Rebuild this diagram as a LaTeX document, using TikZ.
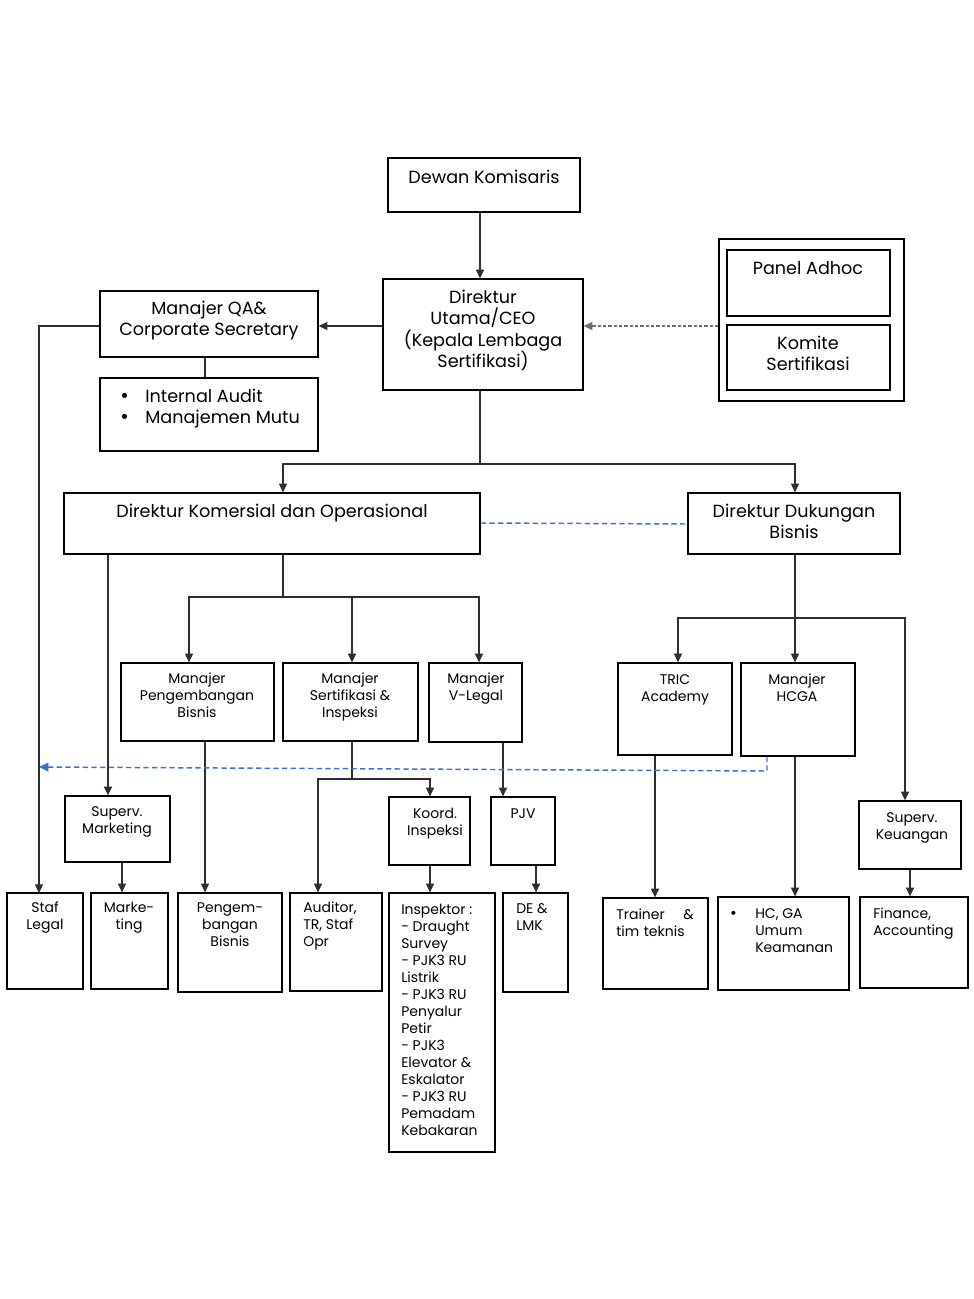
\documentclass[tikz,border=0pt]{standalone}
\usepackage{fontspec}
\setmainfont{Poppins}
\newfontfamily\bulletfont{DejaVu Sans}
\usetikzlibrary{fit,arrows.meta}
\definecolor{lin}{HTML}{2E2E2E}
\definecolor{blu}{HTML}{3F6FD0}
\definecolor{gry}{HTML}{6E6E6E}
\newcommand{\blt}{{\bulletfont •}}
\begin{document}
\begin{tikzpicture}[x=0.75pt,y=-0.75pt,
  box/.style={draw=black,line width=1pt,inner sep=0pt},
  lt/.style={font=\fontsize{13.2}{15.9}\selectfont,align=center,inner sep=0pt,anchor=north},
  st/.style={font=\fontsize{10.5}{12.75}\selectfont,align=center,inner sep=0pt,anchor=north},
  stl/.style={st,align=left,anchor=north west},
  conn/.style={draw=lin,line width=0.8pt},
  arr/.style={conn,-{Triangle[length=6.5pt,width=6pt]}},
  graydash/.style={draw=gry,line width=0.8pt,dash pattern=on 2.5pt off 1.5pt,-{Triangle[length=6.5pt,width=6pt]}},
  bluedash/.style={draw=blu,line width=1.1pt,dash pattern=on 4pt off 2.5pt},
  bluearr/.style={bluedash,-{Triangle[length=7pt,width=6.5pt,fill=blu]}}
]
\fill[white] (0,0) rectangle (974,1299);
\useasboundingbox (0,0) rectangle (974,1299);

% ---------- boxes ----------
\node[box,fit={(388,158)(580,212)}] (dk) {};
\node[box,fit={(383,279)(583,390)}] (ceo) {};
\node[box,fit={(100,291)(318,357)}] (qa) {};
\node[box,fit={(100,378)(318,451)}] (ia) {};
\node[box,fit={(719,239)(904,401)}] (panel) {};
\node[box,fit={(727,250)(890,316)}] (adhoc) {};
\node[box,fit={(727,325)(890,390)}] (komite) {};
\node[box,fit={(64,493)(480,554)}] (dko) {};
\node[box,fit={(688,493)(900,554)}] (ddb) {};
\node[box,fit={(121,663)(274,741)}] (mpb) {};
\node[box,fit={(283,663)(418,741)}] (msi) {};
\node[box,fit={(429,663)(522,742)}] (mvl) {};
\node[box,fit={(618,663)(732,755)}] (tric) {};
\node[box,fit={(741,663)(855,756)}] (hcga) {};
\node[box,fit={(65,796)(170,862)}] (sm) {};
\node[box,fit={(389,797)(470,865)}] (koord) {};
\node[box,fit={(491,797)(555,865)}] (pjv) {};
\node[box,fit={(859,801)(961,869)}] (sk) {};
\node[box,fit={(7,893)(83,989)}] (staf) {};
\node[box,fit={(91,893)(168,989)}] (mkt) {};
\node[box,fit={(178,893)(282,992)}] (pb) {};
\node[box,fit={(290,893)(382,991)}] (aud) {};
\node[box,fit={(389,893)(495,1152)}] (insp) {};
\node[box,fit={(503,893)(568,992)}] (de) {};
\node[box,fit={(603,898)(708,989)}] (trainer) {};
\node[box,fit={(718,897)(849,990)}] (hc) {};
\node[box,fit={(860,897)(968,988)}] (fin) {};

% ---------- texts ----------
\node[lt] (tdk) at (484,170) {Dewan Komisaris};
\node[lt] (tceo) at (483,290) {Direktur\\Utama/CEO\\(Kepala Lembaga\\Sertifikasi)};
\node[lt] (tqa) at (209,301) {Manajer QA\&\\Corporate Secretary};
\node[lt,anchor=north west,align=left] (tia) at (119,389) {\makebox[19.5pt][l]{\blt}Internal Audit\\\makebox[19.5pt][l]{\blt}Manajemen Mutu};
\node[lt] (tadhoc) at (808,261) {Panel Adhoc};
\node[lt] (tkom) at (808,336) {Komite\\Sertifikasi};
\node[lt] (tdko) at (272,504) {Direktur Komersial dan Operasional};
\node[lt] (tddb) at (794,504) {Direktur Dukungan\\Bisnis};
\node[st] (tmpb) at (197,673) {Manajer\\Pengembangan\\Bisnis};
\node[st] (tmsi) at (350,673) {Manajer\\Sertifikasi \&\\Inspeksi};
\node[st] (tmvl) at (476,673) {Manajer\\V-Legal};
\node[st] (ttric) at (675,674) {TRIC\\Academy};
\node[st] (thcga) at (797,674) {Manajer\\HCGA};
\node[st] (tsm) at (117,806) {Superv.\\Marketing};
\node[st] (tkoord) at (435,808) {Koord.\\Inspeksi};
\node[st] (tpjv) at (523,808) {PJV};
\node[st] (tsk) at (912,812) {Superv.\\Keuangan};
\node[st] (tstaf) at (45,902) {Staf\\Legal};
\node[st] (tmkt) at (129,902) {Marke-\\ting};
\node[st] (tpb) at (230,902) {Pengem-\\bangan\\Bisnis};
\node[stl] (taud) at (303,902) {Auditor,\\TR, Staf\\Opr};
\node[stl] (tinsp) at (401,904) {Inspektor :\\- Draught\\Survey\\- PJK3 RU\\Listrik\\- PJK3 RU\\Penyalur\\Petir\\- PJK3\\Elevator \&\\Eskalator\\- PJK3 RU\\Pemadam\\Kebakaran};
\node[stl] (tde) at (516,903) {DE \&\\LMK};
\node[stl,text width=58pt] (ttr) at (616,909) {Trainer\hfill\&\\tim teknis};
\node[stl] (thc) at (729,908) {\makebox[19.5pt][l]{\blt}HC, GA\\\hspace*{19.5pt}Umum\\\hspace*{19.5pt}Keamanan};
\node[stl] (tfin) at (873,908) {Finance,\\Accounting};

% ---------- junction coordinates ----------
\coordinate (jceo) at (480,464);
\coordinate (jdko) at (283,597);
\coordinate (jmsi) at (352,779);
\coordinate (jddb) at (795,618);
\coordinate (jhc) at (767,771);
\coordinate (legalin) at (39,893);
\coordinate (bluend) at (39,767);

% ---------- connectors ----------
\draw[arr] (dk.south -| 480,0) -- (ceo.north -| 480,0);
\draw[arr] (ceo.west |- 0,326) -- (qa.east |- 0,326);
\draw[conn] (qa.south -| 205,0) -- (ia.north -| 205,0);
\draw[graydash] (panel.west |- 0,326) -- (ceo.east |- 0,326);
\draw[arr] (qa.west |- 0,326) -| (legalin);
\draw[conn] (ceo.south -| jceo) -- (jceo);
\draw[arr] (jceo) -| (dko.north -| 283,0);
\draw[arr] (jceo) -| (ddb.north -| 795,0);
\draw[bluedash] (dko.east |- 0,523) -- (ddb.west |- 0,524);
\draw[conn] (dko.south -| jdko) -- (jdko);
\draw[arr] (jdko) -| (mpb.north -| 189,0);
\draw[arr] (jdko) -| (msi.north -| 352,0);
\draw[arr] (jdko) -| (mvl.north -| 479,0);
\draw[arr] (dko.south -| 108,0) -- (sm.north -| 108,0);
\draw[arr] (sm.south -| 122,0) -- (mkt.north -| 122,0);
\draw[arr] (mpb.south -| 205,0) -- (pb.north -| 205,0);
\draw[conn] (msi.south -| jmsi) -- (jmsi);
\draw[arr] (jmsi) -| (aud.north -| 318,0);
\draw[arr] (jmsi) -| (koord.north -| 430,0);
\draw[arr] (koord.south -| 430,0) -- (insp.north -| 430,0);
\draw[arr] (mvl.south -| 503,0) -- (pjv.north -| 503,0);
\draw[arr] (pjv.south -| 536,0) -- (de.north -| 536,0);
\draw[conn] (ddb.south -| jddb) -- (jddb);
\draw[arr] (jddb) -| (tric.north -| 678,0);
\draw[arr] (jddb) -- (hcga.north -| jddb);
\draw[arr] (jddb) -| (sk.north -| 905,0);
\draw[arr] (tric.south -| 655,0) -- (trainer.north -| 655,0);
\draw[arr] (hcga.south -| 795,0) -- (hc.north -| 795,0);
\draw[arr] (sk.south -| 910,0) -- (fin.north -| 910,0);
\draw[bluearr] (hcga.south -| jhc) -- (jhc) -- (bluend);
\end{tikzpicture}
\end{document}
